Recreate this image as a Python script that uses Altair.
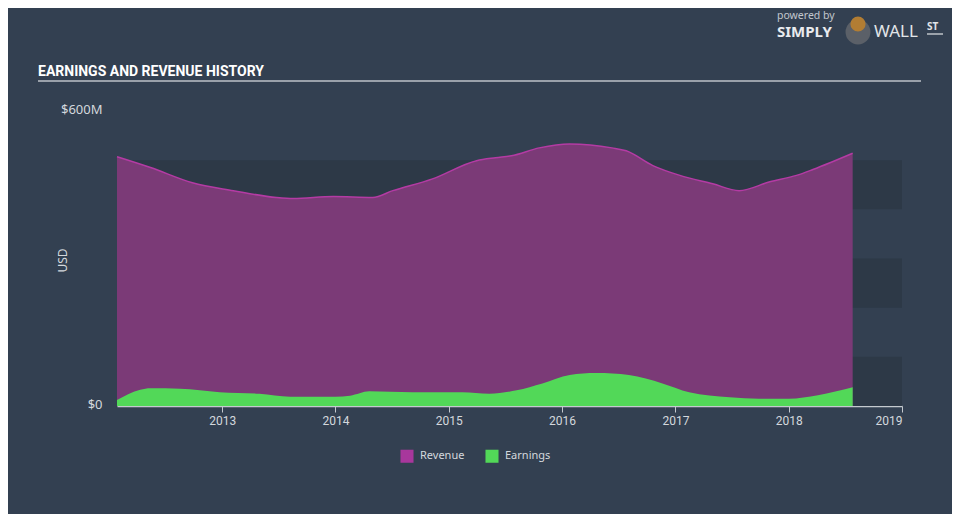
import altair as alt
import pandas as pd

# ---- data (values in $ millions) ----
rev_dates = ["2012-01-28", "2012-05-15", "2012-09-27", "2013-02-06", "2013-06-25",
             "2013-08-18", "2013-12-25", "2014-05-01", "2014-07-05", "2014-11-10",
             "2015-04-01", "2015-06-01", "2015-07-22", "2015-10-20", "2016-01-26",
             "2016-06-10", "2016-07-26", "2016-10-20", "2017-01-15", "2017-05-01",
             "2017-07-25", "2017-11-01", "2018-01-26", "2018-03-20", "2018-07-26"]
rev_values = [507, 485, 454, 438, 424,
              422, 426, 424, 438, 462,
              499, 505, 509, 525, 533,
              525, 519, 489, 469, 452,
              438, 456, 469, 481, 514]

earn_dates = ["2012-01-28", "2012-04-12", "2012-05-15", "2012-08-18", "2012-12-24",
              "2013-05-01", "2013-08-08", "2014-01-01", "2014-02-17", "2014-04-20",
              "2014-09-05", "2015-02-14", "2015-05-12", "2015-08-08", "2015-10-30",
              "2016-01-26", "2016-04-20", "2016-08-04", "2016-11-20", "2017-02-14",
              "2017-06-25", "2017-09-27", "2018-01-01", "2018-04-05", "2018-07-26"]
earn_values = [12, 33, 36, 35, 28,
               25, 19, 19, 21, 30,
               28, 28, 25, 32, 46,
               63, 67, 63, 46, 28,
               18, 15, 15, 22, 38]

band_lo = [0, 200, 400]
band_hi = [100, 300, 500]

series_names = ["Revenue", "Earnings"]
series_colors = ["#a8379c", "#52d858"]
year_ticks = [2013, 2014, 2015, 2016, 2017, 2018, 2019]
y_ticks = [0, 600]

# ---- layout ----
W, H = 785, 295
BG = "#334051"
LABEL = "#d4d8dd"

rev = pd.DataFrame({"date": pd.to_datetime(rev_dates), "value": rev_values})
earn = pd.DataFrame({"date": pd.to_datetime(earn_dates), "value": earn_values})
bands = pd.DataFrame({"value": band_lo, "hi": band_hi})
leg = pd.DataFrame({"series": series_names})

xscale = alt.Scale(domain=[alt.DateTime(year=2012, month=1, date=28),
                           alt.DateTime(year=2019, month=1, date=1)])
yscale = alt.Scale(domain=[0, 600], nice=False)

xaxis = alt.Axis(values=[alt.DateTime(year=y, month=1, date=1) for y in year_ticks],
                 format="%Y", title=None, grid=False, domainColor="#c4c9cf",
                 tickColor="#c4c9cf", tickSize=6, domainWidth=1.5, labelColor=LABEL,
                 labelFont="Roboto", labelFontSize=12, labelPadding=3)
yaxis = alt.Axis(values=y_ticks, title="USD", grid=False, domain=False, ticks=False,
                 labelExpr="datum.value == 0 ? '$0' : '$' + datum.value + 'M'",
                 labelColor=LABEL, labelFont="Noto Sans", labelFontSize=13,
                 labelPadding=15, labelOffset=-2,
                 titleColor=LABEL, titleFont="Noto Sans", titleFontSize=12,
                 titleFontWeight="normal", titleAngle=270, titleX=-55, titleY=149,
                 titleAlign="center", titleBaseline="middle")

X = alt.X("date:T", scale=xscale, axis=xaxis)
Y = alt.Y("value:Q", scale=yscale, axis=yaxis)

band_layer = alt.Chart(bands).mark_rect(color="#2d3947").encode(
    y=Y, y2="hi:Q", x=alt.value(0), x2=alt.value(W))

rev_area = alt.Chart(rev).mark_area(interpolate="monotone", color="#7b3a77").encode(x=X, y=Y)

rev_line = alt.Chart(rev).mark_line(interpolate="monotone", color="#b43ba4",
                                    strokeWidth=1.5).encode(x=X, y=Y)

earn_area = alt.Chart(earn).mark_area(interpolate="monotone", color="#52d858").encode(x=X, y=Y)

legend_layer = alt.Chart(leg).mark_square(size=150, filled=True).encode(
    x=alt.value(-600), y=alt.value(-600),
    color=alt.Color("series:N", scale=alt.Scale(domain=series_names, range=series_colors),
                    legend=alt.Legend(orient="none", legendX=283, legendY=338,
                                      direction="horizontal", title=None,
                                      labelColor=LABEL, labelFont="Noto Sans",
                                      labelFontSize=11, symbolType="square",
                                      symbolSize=170, symbolStrokeWidth=0,
                                      symbolOpacity=1, columnPadding=20, labelOffset=6)))

# ---- title and decorations (positions relative to plot origin) ----
title_txt = alt.Chart(pd.DataFrame({"t": ["EARNINGS AND REVENUE HISTORY"]})).mark_text(
    align="left", baseline="alphabetic",
    font="'Liberation Sans Narrow', Roboto, sans-serif",
    fontSize=14, fontWeight="bold", color="#ffffff").encode(
    text="t:N", x=alt.value(-79), y=alt.value(-35))

underline = alt.Chart(pd.DataFrame({"a": [0]})).mark_rule(color="#9aa1aa", strokeWidth=2).encode(
    x=alt.value(-79), x2=alt.value(804), y=alt.value(-30))

powered = alt.Chart(pd.DataFrame({"t": ["powered by"]})).mark_text(
    align="left", baseline="alphabetic", font="Noto Sans", fontSize=10.5,
    color="#c2c7cd").encode(text="t:N", x=alt.value(660), y=alt.value(-92))
simply = alt.Chart(pd.DataFrame({"t": ["SIMPLY"]})).mark_text(
    align="left", baseline="alphabetic", font="Noto Sans", fontSize=15, fontWeight="bold",
    color="#e9ebee").encode(text="t:N", x=alt.value(660), y=alt.value(-74))
wall = alt.Chart(pd.DataFrame({"t": ["WALL"]})).mark_text(
    align="left", baseline="alphabetic", font="Noto Sans", fontSize=17,
    color="#e2e5e8").encode(text="t:N", x=alt.value(757), y=alt.value(-74))
st = alt.Chart(pd.DataFrame({"t": ["ST"]})).mark_text(
    align="left", baseline="alphabetic", font="Noto Sans", fontSize=10, fontWeight="bold",
    color="#e2e5e8").encode(text="t:N", x=alt.value(810), y=alt.value(-81))
st_rule = alt.Chart(pd.DataFrame({"a": [0]})).mark_rule(color="#e2e5e8", strokeWidth=1.2).encode(
    x=alt.value(810), x2=alt.value(826), y=alt.value(-77))
logo_bg = alt.Chart(pd.DataFrame({"a": [0]})).mark_point(
    shape="circle", filled=True, size=620, color="#5b6068", opacity=1).encode(
    x=alt.value(741), y=alt.value(-79))
logo_head = alt.Chart(pd.DataFrame({"a": [0]})).mark_point(
    shape="circle", filled=True, size=230, color="#b27d33", opacity=1).encode(
    x=alt.value(741), y=alt.value(-87))

chart = alt.layer(
    band_layer, rev_area, rev_line, earn_area, legend_layer,
    title_txt, underline, powered, simply, wall, st, st_rule, logo_bg, logo_head
).properties(
    width=W, height=H,
    padding={"left": 109, "top": 103, "right": 50, "bottom": 108},
    autosize=alt.AutoSizeParams(type="none"),
    background=BG,
).configure_view(stroke=None)

chart.save("out.html", embed_options={"renderer": "svg", "actions": False})
